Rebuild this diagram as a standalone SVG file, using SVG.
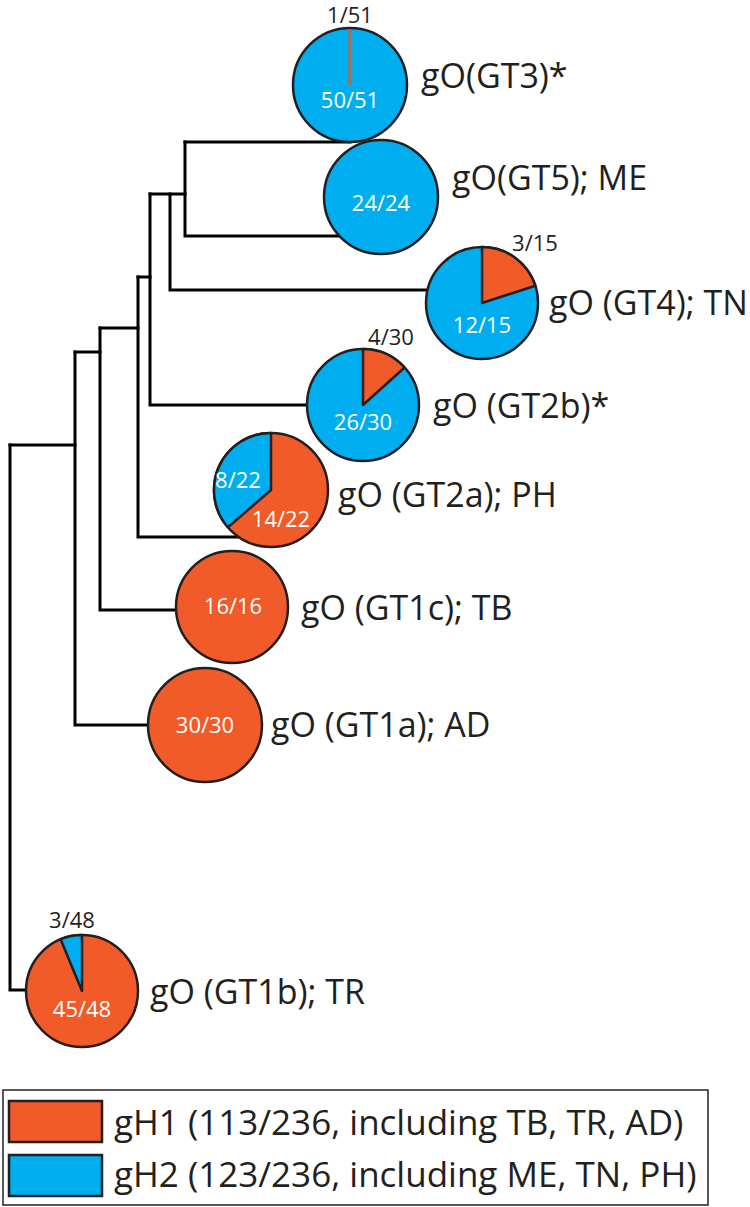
<svg xmlns="http://www.w3.org/2000/svg" width="750" height="1207" viewBox="0 0 750 1207">
<style>
.br{fill:none;stroke:#000;stroke-width:3;stroke-linejoin:miter;stroke-linecap:square}
.red{fill:#F15A29}
.blue{fill:#00AEEF}
.pie{stroke:#231F20;stroke-width:2.5}
.sl{stroke:#231F20;stroke-width:2.5;stroke-linejoin:round}
text{font-family:"Open Sans","Noto Sans",sans-serif}
.in{fill:#fff;font-size:22px;text-anchor:middle}
.out{fill:#231F20;font-size:22px;text-anchor:middle}
.lab{fill:#231F20;font-size:34px}
.leg{fill:#231F20;font-size:35px}
</style>
<g id="connectors">
<path class="br" d="M185,142 H350"/>
<path class="br" d="M185,142 V236 H339"/>
<path class="br" d="M150,194 H185"/>
<path class="br" d="M170,194 V290 H427"/>
<path class="br" d="M150,194 V405 H307"/>
<path class="br" d="M138,277 H150"/>
<path class="br" d="M138,277 V537 H239"/>
<path class="br" d="M100,328 H138"/>
<path class="br" d="M100,328 V610 H176"/>
<path class="br" d="M75,352 H100"/>
<path class="br" d="M75,352 V725 H148"/>
<path class="br" d="M10,445 H75"/>
<path class="br" d="M10,445 V990 H26"/>
</g>
<g id="GT3">
<circle class="blue pie" cx="350" cy="85" r="57"/>
<line x1="350" y1="29.5" x2="350" y2="85" stroke="#B8674C" stroke-width="3"/>
<text class="out" x="350" y="23">1/51</text>
<text class="in" x="350" y="108">50/51</text>
<text class="lab" x="421" y="88">gO(GT3)*</text>
</g>
<g id="GT5">
<circle class="blue pie" cx="381" cy="197" r="57"/>
<text class="in" x="381" y="211">24/24</text>
<text class="lab" x="452" y="190">gO(GT5); ME</text>
</g>
<g id="GT4">
<circle class="blue pie" cx="482" cy="303" r="56"/>
<path class="red sl" d="M482,303 L482,247 A56,56 0 0,1 535.3,285.7 Z"/>
<text class="out" x="535" y="251">3/15</text>
<text class="in" x="482" y="333">12/15</text>
<text class="lab" x="549" y="315">gO (GT4); TN</text>
</g>
<g id="GT2b">
<circle class="blue pie" cx="363" cy="405" r="56"/>
<path class="red sl" d="M363,405 L363,349 A56,56 0 0,1 404.6,367.5 Z"/>
<text class="out" x="391" y="345">4/30</text>
<text class="in" x="363" y="430">26/30</text>
<text class="lab" x="433" y="418">gO (GT2b)*</text>
</g>
<g id="GT2a">
<circle class="red pie" cx="271" cy="490" r="57"/>
<path class="blue sl" d="M271,490 L271,433 A57,57 0 0,0 227.9,527.3 Z"/>
<text class="in" x="238" y="488">8/22</text>
<text class="in" x="281" y="527">14/22</text>
<text class="lab" x="338" y="507">gO (GT2a); PH</text>
</g>
<g id="GT1c">
<circle class="red pie" cx="232" cy="607" r="56"/>
<text class="in" x="233" y="614">16/16</text>
<text class="lab" x="301" y="620">gO (GT1c); TB</text>
</g>
<g id="GT1a">
<circle class="red pie" cx="205" cy="725" r="57"/>
<text class="in" x="205" y="733">30/30</text>
<text class="lab" x="271" y="737">gO (GT1a); AD</text>
</g>
<g id="GT1b">
<circle class="red pie" cx="82" cy="991" r="56"/>
<path class="blue sl" d="M82,991 L82,935 A56,56 0 0,0 60.6,939.3 Z"/>
<text class="out" x="72" y="928">3/48</text>
<text class="in" x="82" y="1017">45/48</text>
<text class="lab" x="150" y="1004">gO (GT1b); TR</text>
</g>
<g id="legend">
<rect x="3" y="1090" width="705" height="115" fill="#fff" stroke="#231F20" stroke-width="1.5"/>
<rect class="red" x="9" y="1101" width="93" height="41" stroke="#231F20" stroke-width="2.5"/>
<rect class="blue" x="9" y="1155" width="93" height="41" stroke="#231F20" stroke-width="2.5"/>
<text class="leg" x="114" y="1135">gH1 (113/236, including TB, TR, AD)</text>
<text class="leg" x="114" y="1187">gH2 (123/236, including ME, TN, PH)</text>
</g>
</svg>
